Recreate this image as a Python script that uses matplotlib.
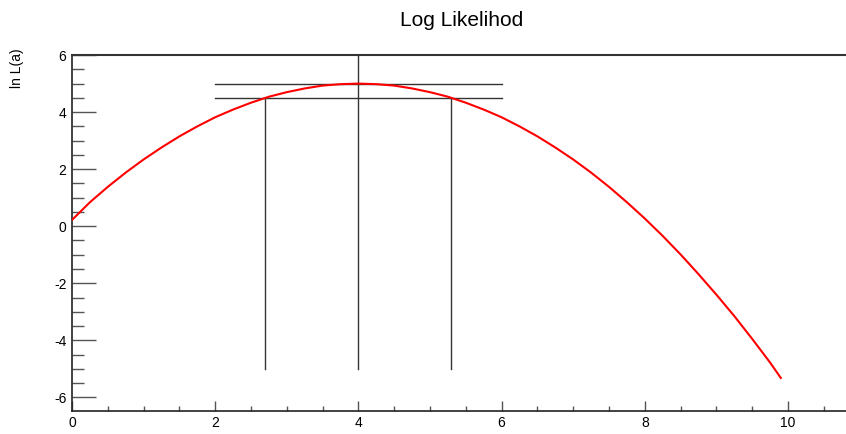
import numpy as np
import matplotlib
matplotlib.use("Agg")
import matplotlib.pyplot as plt

plt.rcParams['font.family'] = ['Liberation Sans', 'DejaVu Sans']
plt.rcParams['axes.unicode_minus'] = False

# log likelihood curve
a_vals = [0.0, 0.25, 0.5, 0.75, 1.0, 1.25, 1.5, 1.75, 2.0, 2.25, 2.5, 2.75, 3.0,
          3.25, 3.5, 3.75, 4.0, 4.25, 4.5, 4.75, 5.0, 5.25, 5.5, 5.75, 6.0,
          6.25, 6.5, 6.75, 7.0, 7.25, 7.5, 7.75, 8.0, 8.25, 8.5, 8.75, 9.0,
          9.25, 9.5, 9.75, 9.9]
lnL_vals = [0.22, 0.84, 1.38, 1.88, 2.34, 2.76, 3.15, 3.50, 3.82, 4.09, 4.33,
            4.54, 4.70, 4.83, 4.93, 4.98, 5.0, 4.98, 4.93, 4.83, 4.70, 4.54,
            4.33, 4.09, 3.82, 3.50, 3.15, 2.76, 2.34, 1.88, 1.38, 0.84, 0.27,
            -0.34, -0.99, -1.68, -2.40, -3.15, -3.95, -4.78, -5.32]

a_best = 4.0
a_lo = 2.7
a_hi = 5.3
lnL_max = 5.0
lnL_half = 4.5
hline_x = [2.0, 6.0]
vline_bottom = -5.0
vline_top_mid = 6.0

fig = plt.figure(figsize=(8.46, 4.34), dpi=100)
ax = fig.add_axes([72/846, 1 - 410.5/434, 1 - 72/846, (410.5 - 54.5)/434])

ax.plot(a_vals, lnL_vals, color='#ff0000', lw=1.5, zorder=3)

lc = '#333333'
ax.plot(hline_x, [lnL_max, lnL_max], color=lc, lw=1.0)
ax.plot(hline_x, [lnL_half, lnL_half], color=lc, lw=1.0)
ax.plot([a_best, a_best], [vline_bottom, vline_top_mid], color=lc, lw=1.0)
ax.plot([a_lo, a_lo], [vline_bottom, lnL_half], color=lc, lw=1.0)
ax.plot([a_hi, a_hi], [vline_bottom, lnL_half], color=lc, lw=1.0)

ax.set_xlim(0, 10.81)
ax.set_ylim(-6.46, 6.02)

ax.set_xticks([0, 2, 4, 6, 8, 10])
ax.set_xticks(np.arange(0, 10.81, 0.5), minor=True)
ax.set_yticks([-6, -4, -2, 0, 2, 4, 6])
ax.set_yticks(np.arange(-6, 6.01, 0.5), minor=True)

ax.tick_params(axis='x', which='major', direction='in', length=7, width=1,
               color='#555555', labelsize=10, pad=4)
ax.tick_params(axis='x', which='minor', direction='in', length=3.5, width=1,
               color='#555555')
ax.tick_params(axis='y', which='major', direction='in', length=17, width=1,
               color='#555555', labelsize=10, pad=4)
ax.tick_params(axis='y', which='minor', direction='in', length=8.5, width=1,
               color='#555555')

ax.spines['right'].set_visible(False)
for s in ['left', 'bottom']:
    ax.spines[s].set_color('#222222')
    ax.spines[s].set_linewidth(1.2)
ax.spines['top'].set_color('#333333')
ax.spines['top'].set_linewidth(1.5)

fig.text(462/846, 1 - 20/434, 'Log Likelihod', ha='center', va='center', fontsize=15)
fig.text(17/846, 1 - 48/434, 'ln L(a)', rotation=90, ha='center', va='top', fontsize=10)

fig.savefig('out.png', dpi=100)
